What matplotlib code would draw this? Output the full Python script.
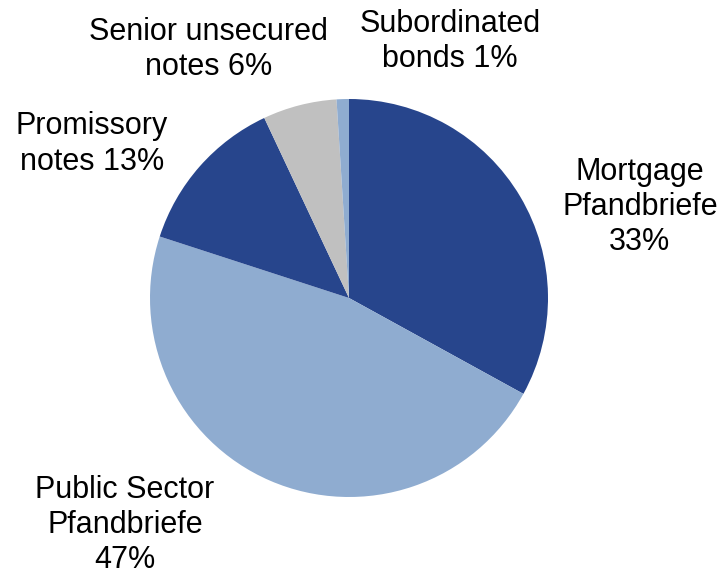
import matplotlib
matplotlib.use("Agg")
import matplotlib.pyplot as plt

plt.rcParams['font.family'] = ['Liberation Sans', 'DejaVu Sans']

categories = ["Mortgage\nPfandbriefe", "Public Sector\nPfandbriefe", "Promissory\nnotes",
              "Senior unsecured\nnotes", "Subordinated\nbonds"]
shares = [33, 47, 13, 6, 1]
colors = ["#27458C", "#8FACD0", "#27458C", "#C0C0C0", "#8FACD0"]

# label anchor points in pie-radius units (center of each text block)
label_pos = [(1.462, 0.457), (-1.126, -1.141), (-1.291, 0.774), (-0.704, 1.251), (0.508, 1.291)]
label_fmt = ["{name}\n{v}%", "{name}\n{v}%", "{name} {v}%", "{name} {v}%", "{name} {v}%"]

W, H = 721, 575
cx, cy, r = 349, 298, 199

fig = plt.figure(figsize=(W / 100, H / 100), dpi=100)
ax = fig.add_axes([0, 0, 1, 1])
ax.pie(shares, colors=colors, startangle=90, counterclock=False,
       wedgeprops=dict(linewidth=0), radius=1)
ax.set_xlim((0 - cx) / r, (W - cx) / r)
ax.set_ylim((cy - H) / r, cy / r)
ax.set_aspect('equal')
ax.axis('off')

for name, v, (x, y), fmt in zip(categories, shares, label_pos, label_fmt):
    ax.text(x, y, fmt.format(name=name, v=v), ha='center', va='center',
            fontsize=22, color='black', linespacing=1.22)

fig.savefig("out.png", dpi=100)
